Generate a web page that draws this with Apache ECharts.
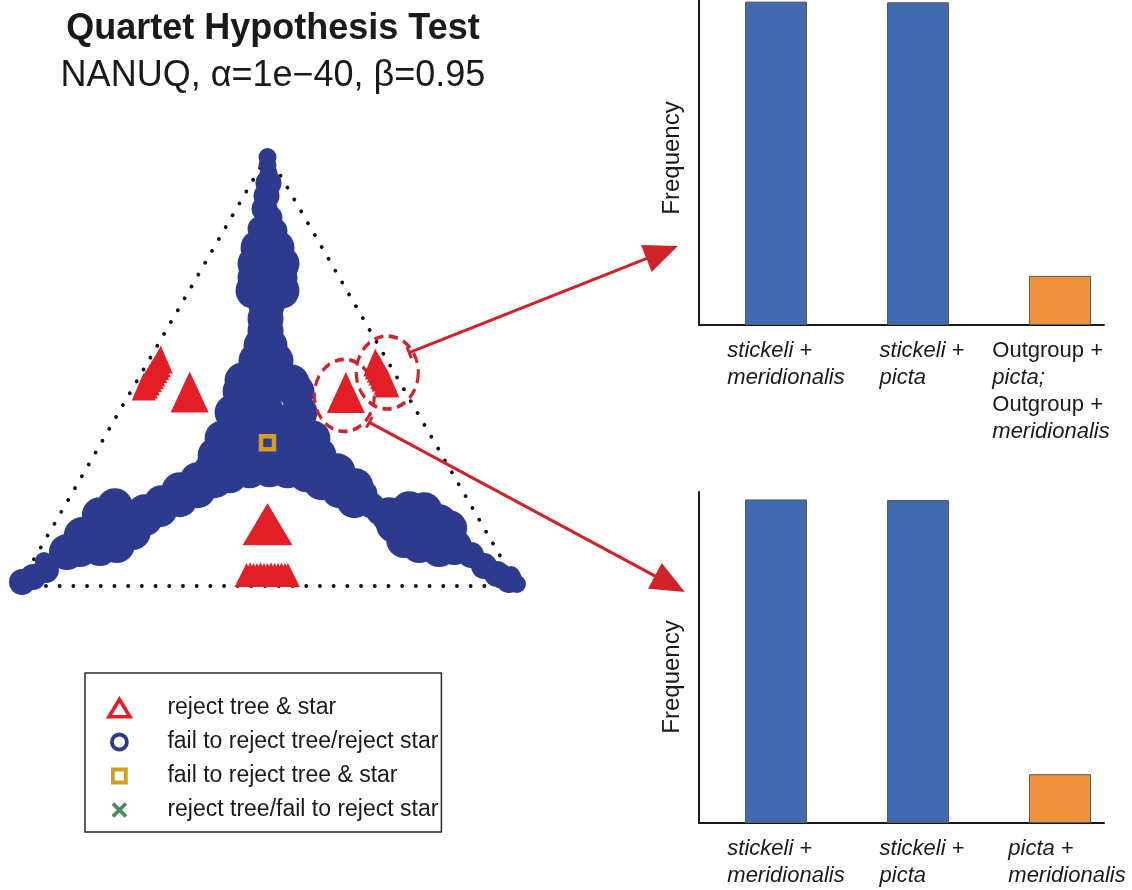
<!DOCTYPE html>
<html><head><meta charset="utf-8">
<script src="https://cdn.jsdelivr.net/npm/echarts/dist/echarts.min.js"></script>
<style>html,body{margin:0;padding:0;background:#fff}#c{width:1132px;height:890px}</style>
</head><body><div id="c"></div>
<script>
// ---------------- data (simplex coordinates: base 0..1000, apex height 866) ----------------
const triangleVertices = [[0,0],[1000,0],[500,866],[0,0]];
const blueSmall = [[499,860],[499,844],[501,828],[999,4],[51,50],[987,22]];
const blueMedium = [[501,808],[497,782],[493,756],[503,738],[485,716],[513,712],
  [7,8],[29,18],[55,32],
  [693,186],[707,162],[723,148],[907,62],[933,40],[959,24],[983,12]];
const blueLarge = [
  [481,678],[517,678],[475,646],[527,646],[499,632],[475,618],[523,618],[471,592],[527,592],
  [497,562],[495,536],[495,512],[487,482],[503,482],[477,452],[515,452],
  [449,412],[497,422],[547,408],[445,390],[499,392],[557,390],
  [429,348],[495,352],[563,348],[409,296],[463,312],[533,312],[589,296],
  [395,262],[453,262],[497,276],[543,262],[601,262],
  [463,232],[503,234],[539,232],[423,222],[577,224],
  [387,232],[393,212],[359,212],[359,192],[323,192],[323,174],[287,166],[283,154],
  [253,148],[253,136],[223,132],[229,108],[193,160],[193,116],[163,142],[163,108],
  [197,82],[163,76],[143,92],[127,102],[123,74],[97,68],
  [607,208],[639,230],[643,192],[675,200],[673,172],[743,142],[753,122],[783,154],
  [813,152],[803,118],[843,128],[863,116],[773,92],[803,82],[843,74],[873,78]];
const redSlanted = [[285,454],[281,446],[278,441],[274,435],[270,428],[267,423],[263,417],[259,410],[255,404],[251,400],
  [715,448],[718,442],[722,436],[725,430],[729,423],[732,418],[736,411],[739,406]];
const redCompact = [[343,389],[656,388]];
const redWide = [[499,124]];
const redBase = [[457,22],[464,23],[471,22],[478,22],[485,23],[492,22],[499,22],
  [506,23],[513,22],[520,22],[527,23],[534,22],[540,22]];
const yellowPoints = [[499,287]];
const highlightCenters = [[653,382],[739,428]];
const arrowStarts = [[783,468],[703,328]];
const arrowTips = [[-0.052,0.243],[-0.035,0.698]];

const topCategories = ['stickeli +\nmeridionalis','stickeli +\npicta','Outgroup +\npicta;\nOutgroup +\nmeridionalis'];
const topValues = [100, 99.8, 15.2];
const bottomCategories = ['stickeli +\nmeridionalis','stickeli +\npicta','picta +\nmeridionalis'];
const bottomValues = [100, 99.8, 15.1];

// ---------------- styles ----------------
const FONT = "'Liberation Sans', Arial, Helvetica, sans-serif";
const TXT = '#1a1a1a';
const BLUE = '#2D3B8F', RED = '#E31E26', DRED = '#D02229', YEL = '#D49F1E', GRN = '#1E6E33';
const BAR_BLUE = '#426AB0', BAR_ORANGE = '#EF923D';
const barColors = [BAR_BLUE, BAR_BLUE, BAR_ORANGE];
const topLabelPad = [[0,0,0,20],[0,0,0,8],[0,18,0,0]];
const bottomLabelPad = [[0,0,0,20],[0,0,0,8],[0,0,0,14]];

function fmtLabel(v){
  return v.split('\n').map(function(line){
    return line.split(' ').map(function(w){
      return (w === '+' || w === 'Outgroup') ? '{n|' + w + '}' : '{i|' + w + '}';
    }).join('{n| }');
  }).join('\n');
}
const labelRich = {
  i: {fontFamily: FONT, fontSize: 22, fontStyle: 'italic', color: TXT, align: 'left', lineHeight: 27},
  n: {fontFamily: FONT, fontSize: 22, color: TXT, align: 'left', lineHeight: 27}
};
function catData(cats, pads){
  return cats.map(function(c, i){ return {value: c, textStyle: {padding: pads[i]}}; });
}
function barData(vals){
  return vals.map(function(v, i){ return {value: v, itemStyle: {color: barColors[i]}}; });
}
const hidden = {show: false};
function redSeries(data, size){
  return {type: 'scatter', name: 'reject tree & star', xAxisIndex: 0, yAxisIndex: 0, data: data,
    symbol: 'triangle', symbolSize: size, clip: false, silent: true, z: 3, itemStyle: {color: RED, opacity: 1}};
}
function blueSeries(data, size){
  return {type: 'scatter', name: 'fail to reject tree/reject star', xAxisIndex: 0, yAxisIndex: 0, data: data,
    symbolSize: size, clip: false, silent: true, z: 2, itemStyle: {color: BLUE, opacity: 1}};
}

const option = {
  animation: false,
  backgroundColor: '#fff',
  title: {
    text: 'Quartet Hypothesis Test',
    subtext: 'NANUQ, \u03b1=1e\u221240, \u03b2=0.95',
    left: 268, top: 6, textAlign: 'center', itemGap: 11,
    textStyle: {fontFamily: FONT, fontSize: 36, fontWeight: 'bold', color: TXT},
    subtextStyle: {fontFamily: FONT, fontSize: 36, color: TXT}
  },
  legend: {
    orient: 'vertical', left: 85, top: 673,
    padding: [23, 3, 10, 20.5],
    borderColor: '#2a2a2a', borderWidth: 1.5,
    itemWidth: 55, itemHeight: 20, itemGap: 10,
    selectedMode: false, symbolKeepAspect: true,
    textStyle: {fontFamily: FONT, fontSize: 23, color: TXT, lineHeight: 24},
    data: [
      {name: 'reject tree & star', icon: 'path://M0,0M55,20M12,1.5L22.5,18.8L1.5,18.8Z',
        itemStyle: {color: 'transparent', borderColor: RED, borderWidth: 3.6}},
      {name: 'fail to reject tree/reject star', icon: 'path://M0,0M55,20M4.5,10A7.5,7.5,0,1,1,19.5,10A7.5,7.5,0,1,1,4.5,10Z',
        itemStyle: {color: 'transparent', borderColor: BLUE, borderWidth: 3.8}},
      {name: 'fail to reject tree & star', icon: 'path://M0,0M55,20M5.5,3.5L18.5,3.5L18.5,16.5L5.5,16.5Z',
        itemStyle: {color: 'transparent', borderColor: YEL, borderWidth: 3.8}},
      {name: 'reject tree/fail to reject star', icon: 'path://M0,0M55,20M5.5,3.5L18.5,16.5M18.5,3.5L5.5,16.5',
        itemStyle: {color: 'transparent', borderColor: GRN, borderWidth: 3.8}}
    ]
  },
  grid: [
    {left: 18.5, top: 154, width: 499, height: 432},
    {left: 705, top: 0, width: 426, height: 325},
    {left: 699, top: 0, width: 405, height: 325},
    {left: 705, top: 492, width: 426, height: 331},
    {left: 699, top: 492, width: 405, height: 331}
  ],
  xAxis: [
    {gridIndex: 0, type: 'value', min: 0, max: 1000, show: false},
    {gridIndex: 1, type: 'category', data: catData(topCategories, topLabelPad),
      axisLine: hidden, axisTick: hidden,
      axisLabel: {interval: 0, margin: 12, align: 'center', formatter: fmtLabel, rich: labelRich}},
    {gridIndex: 2, type: 'value', min: 0, max: 1, axisLine: {show: true, onZero: false, lineStyle: {color: TXT, width: 2}},
      axisTick: hidden, axisLabel: hidden, splitLine: hidden},
    {gridIndex: 3, type: 'category', data: catData(bottomCategories, bottomLabelPad),
      axisLine: hidden, axisTick: hidden,
      axisLabel: {interval: 0, margin: 12, align: 'center', formatter: fmtLabel, rich: labelRich}},
    {gridIndex: 4, type: 'value', min: 0, max: 1, axisLine: {show: true, onZero: false, lineStyle: {color: TXT, width: 2}},
      axisTick: hidden, axisLabel: hidden, splitLine: hidden}
  ],
  yAxis: [
    {gridIndex: 0, type: 'value', min: 0, max: 866, show: false},
    {gridIndex: 1, type: 'value', min: 0, max: 100.5, show: false},
    {gridIndex: 2, type: 'value', min: 0, max: 1, axisLine: {show: true, onZero: false, lineStyle: {color: TXT, width: 2}},
      axisTick: hidden, axisLabel: hidden, splitLine: hidden,
      name: 'Frequency', nameLocation: 'middle', nameGap: 15,
      nameTextStyle: {fontFamily: FONT, fontSize: 24, color: TXT, padding: [0, 0, 0, 9]}},
    {gridIndex: 3, type: 'value', min: 0, max: 102.3, show: false},
    {gridIndex: 4, type: 'value', min: 0, max: 1, axisLine: {show: true, onZero: false, lineStyle: {color: TXT, width: 2}},
      axisTick: hidden, axisLabel: hidden, splitLine: hidden,
      name: 'Frequency', nameLocation: 'middle', nameGap: 15,
      nameTextStyle: {fontFamily: FONT, fontSize: 24, color: TXT, padding: [0, 39, 0, 0]}}
  ],
  series: [
    {type: 'line', xAxisIndex: 0, yAxisIndex: 0, data: triangleVertices, symbol: 'none', silent: true, z: 1,
      lineStyle: {color: '#111', width: 3.8, type: [0.1, 13.6], cap: 'round'}},
    blueSeries(blueLarge, 36),
    blueSeries(blueMedium, 26),
    blueSeries(blueSmall, 18),
    redSeries(redSlanted, [24, 28]),
    redSeries(redCompact, [38, 41]),
    redSeries(redWide, [50, 42]),
    redSeries(redBase, [24, 24]),
    {type: 'scatter', name: 'fail to reject tree & star', xAxisIndex: 0, yAxisIndex: 0, data: yellowPoints,
      symbol: 'rect', symbolSize: 13, clip: false, silent: true, z: 4,
      itemStyle: {color: 'transparent', borderColor: YEL, borderWidth: 4.5, opacity: 1}},
    {type: 'scatter', name: 'reject tree/fail to reject star', xAxisIndex: 0, yAxisIndex: 0, data: [],
      itemStyle: {color: GRN}},
    {type: 'scatter', name: 'highlight', xAxisIndex: 0, yAxisIndex: 0, data: highlightCenters,
      symbol: 'circle', symbolSize: function(v, p){ return p.dataIndex === 0 ? [60, 72] : [62, 73]; },
      clip: false, silent: true, z: 5,
      itemStyle: {color: 'transparent', borderColor: DRED, borderWidth: 3.4, borderType: [10, 6], opacity: 1}},
    {type: 'bar', xAxisIndex: 1, yAxisIndex: 1, data: barData(topValues), barWidth: 62, silent: true,
      itemStyle: {borderColor: '#5a5a5a', borderWidth: 1}},
    {type: 'bar', xAxisIndex: 3, yAxisIndex: 3, data: barData(bottomValues), barWidth: 62, silent: true,
      itemStyle: {borderColor: '#5a5a5a', borderWidth: 1}}
  ]
};

const chart = echarts.init(document.getElementById('c'));
chart.setOption(option);

// arrows from the highlighted clusters to the bar charts
const graphics = [];
arrowStarts.forEach(function(s, i){
  const p0 = chart.convertToPixel({gridIndex: 0}, s);
  const p1 = chart.convertToPixel({gridIndex: i === 0 ? 2 : 4}, arrowTips[i]);
  const dx = p1[0] - p0[0], dy = p1[1] - p0[1];
  const L = Math.sqrt(dx*dx + dy*dy);
  const ux = dx / L, uy = dy / L, nx = -uy, ny = ux;
  const headLen = 34, halfW = 14.5, tick = 6;
  const bx = p1[0] - ux*headLen, by = p1[1] - uy*headLen;
  graphics.push({type: 'line', z: 100, silent: true,
    shape: {x1: p0[0], y1: p0[1], x2: bx + ux*2, y2: by + uy*2},
    style: {stroke: DRED, lineWidth: 3}});
  graphics.push({type: 'line', z: 100, silent: true,
    shape: {x1: p0[0] + nx*tick, y1: p0[1] + ny*tick, x2: p0[0] - nx*tick, y2: p0[1] - ny*tick},
    style: {stroke: DRED, lineWidth: 3}});
  graphics.push({type: 'polygon', z: 100, silent: true,
    shape: {points: [[p1[0], p1[1]], [bx + nx*halfW, by + ny*halfW], [bx - nx*halfW, by - ny*halfW]]},
    style: {fill: DRED}});
});
chart.setOption({graphic: graphics});
</script>
</body></html>
